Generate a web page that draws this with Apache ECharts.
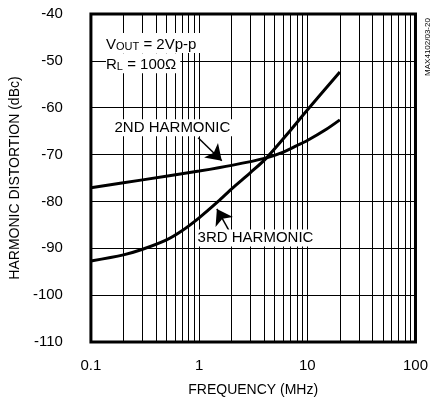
<!DOCTYPE html>
<html>
<head>
<meta charset="utf-8">
<script src="https://cdn.jsdelivr.net/npm/echarts@6/dist/echarts.min.js"></script>
<style>
  html, body { margin: 0; padding: 0; background: #fff; }
  #chart { width: 431px; height: 402px; }
</style>
</head>
<body>
<div id="chart"></div>
<script>
// frequency in MHz, distortion in dBc
const freq2 = [0.1, 0.3, 1, 2, 4.2, 6, 8, 10, 15, 20]
const h2 = [-77.1, -75.4, -73.5, -72.3, -70.7, -69.5, -68.1, -67, -64.6, -62.6]
const freq3 = [0.1, 0.2, 0.3, 0.5, 0.7, 1, 1.5, 2, 3, 4.2, 7, 10, 20]
const h3 = [-92.7, -91.4, -90.2, -88.2, -86.2, -83.5, -80.0, -77.3, -73.8, -70.7, -64.8, -60.5, -52.4]
const minorFreqs = [0.2, 0.3, 0.4, 0.5, 0.6, 0.7, 0.8, 0.9, 2, 3, 4, 5, 6, 7, 8, 9, 20, 30, 40, 50, 60, 70, 80, 90]
const xTicks = [0.1, 1, 10, 100]

const FONT = '"Liberation Sans", Arial, Helvetica, sans-serif'
const INK = '#000'

const chart = echarts.init(document.getElementById('chart'))

const zip = (xs, ys) => xs.map((x, i) => [x, ys[i]])

const labelRich = {
  a: { fontSize: 15, color: INK, fontFamily: FONT, lineHeight: 18, verticalAlign: 'bottom' },
  s: { fontSize: 11, color: INK, fontFamily: FONT, lineHeight: 14, verticalAlign: 'bottom' },
}

const arrowLine = {
  silent: true,
  symbol: ['none', 'arrow'],
  symbolSize: 15,
  label: { show: false },
  lineStyle: { color: INK, width: 1.5, type: 'solid' },
}

chart.setOption({
  animation: false,
  textStyle: { fontFamily: FONT, color: INK },
  grid: { left: 90, right: 13, top: 14, bottom: 60, show: true, borderColor: INK, borderWidth: 3, backgroundColor: 'transparent' },
  xAxis: {
    type: 'log',
    logBase: 10,
    min: 0.1,
    max: 100,
    name: 'FREQUENCY (MHz)',
    nameLocation: 'middle',
    nameGap: 41,
    nameTextStyle: { fontSize: 14, color: INK, fontFamily: FONT },
    axisLine: { show: false },
    axisTick: { show: false },
    axisLabel: {
      fontSize: 15, color: INK, margin: 16, fontFamily: FONT,
      formatter: v => (xTicks.some(t => Math.abs(t - v) < 1e-9) ? String(v) : ''),
    },
    splitLine: { show: true, lineStyle: { color: INK, width: 1 } },
  },
  yAxis: {
    type: 'value',
    min: -110,
    max: -40,
    interval: 10,
    name: 'HARMONIC DISTORTION (dBc)',
    nameLocation: 'middle',
    nameGap: 64,
    nameTextStyle: { fontSize: 14, color: INK, fontFamily: FONT },
    axisLine: { show: false },
    axisTick: { show: false },
    axisLabel: { fontSize: 15, color: INK, margin: 28, fontFamily: FONT },
    splitLine: { show: true, lineStyle: { color: INK, width: 1 } },
  },
  graphic: [{
    type: 'text',
    x: 428, y: 47,
    rotation: Math.PI / 2,
    style: { text: 'MAX4102/03-20', fontSize: 8, fill: INK, align: 'center', verticalAlign: 'middle', fontFamily: FONT },
  }],
  series: [
    {
      // minor vertical grid lines at 2..9 of each decade
      type: 'line',
      data: [],
      silent: true,
      z: 1,
      markLine: {
        silent: true,
        symbol: ['none', 'none'],
        label: { show: false },
        lineStyle: { color: INK, width: 1, type: 'solid' },
        data: minorFreqs.map(f => ({ xAxis: f })),
      },
    },
    {
      name: '2ND HARMONIC',
      type: 'line',
      data: zip(freq2, h2),
      smooth: 0.3,
      symbol: 'none',
      z: 5,
      lineStyle: { color: INK, width: 3 },
      markPoint: {
        symbol: 'rect',
        symbolSize: 0,
        z: 10,
        label: {
          show: true, position: 'inside', color: INK, fontSize: 15, fontFamily: FONT,
          backgroundColor: '#fff', padding: [1, 2],
        },
        data: [
          { coord: [0.567, -64.3], label: { formatter: '2ND HARMONIC' } },
          {
            coord: [0.124, -46.2],
            label: { position: 'right', padding: [1, 4, 1, 0], formatter: '{a|V}{s|OUT}{a| = 2Vp-p}', rich: labelRich },
          },
          {
            coord: [0.124, -50.5],
            label: { position: 'right', padding: [1, 4, 1, 0], formatter: '{a|R}{s|L}{a| = 100Ω}', rich: labelRich },
          },
        ],
      },
      markLine: Object.assign({}, arrowLine, {
        data: [[{ coord: [0.98, -66.4] }, { coord: [1.62, -71.3] }]],
      }),
    },
    {
      name: '3RD HARMONIC',
      type: 'line',
      data: zip(freq3, h3),
      smooth: 0.3,
      symbol: 'none',
      z: 5,
      lineStyle: { color: INK, width: 3 },
      markPoint: {
        symbol: 'rect',
        symbolSize: 0,
        z: 10,
        label: {
          show: true, position: 'inside', color: INK, fontSize: 15, fontFamily: FONT,
          backgroundColor: '#fff', padding: [1, 2],
        },
        data: [{ coord: [3.32, -87.8], label: { formatter: '3RD HARMONIC' } }],
      },
      markLine: Object.assign({}, arrowLine, {
        data: [[{ coord: [1.88, -86.1] }, { coord: [1.46, -81.6] }]],
      }),
    },
  ],
})
</script>
</body>
</html>
